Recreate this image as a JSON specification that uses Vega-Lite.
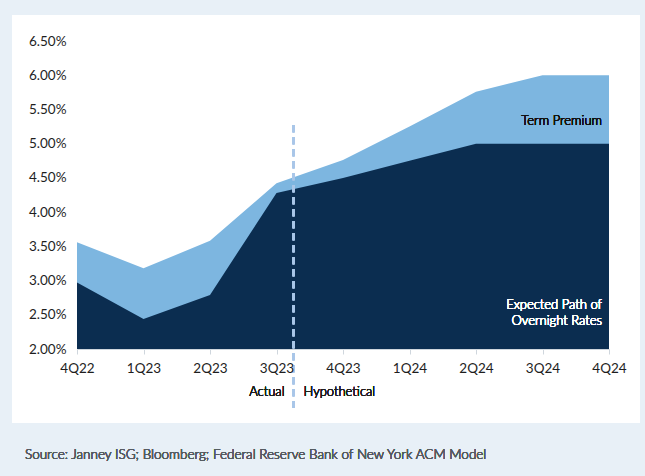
{
  "$schema": "https://vega.github.io/schema/vega-lite/v6.json",
  "autosize": {"type": "none"},
  "width": 532,
  "height": 308,
  "padding": {"left": 77, "top": 41, "right": 36, "bottom": 127},
  "background": "#e8f0f7",
  "config": {
    "font": "Lato",
    "view": {"stroke": null},
    "axis": {"labelOverlap": false, "labelFont": "Lato"}
  },
  "data": {
    "values": [
      {"i": 0, "quarter": "4Q22", "expected": 2.97, "total": 3.56},
      {"i": 1, "quarter": "1Q23", "expected": 2.44, "total": 3.18},
      {"i": 2, "quarter": "2Q23", "expected": 2.79, "total": 3.58},
      {"i": 3, "quarter": "3Q23", "expected": 4.28, "total": 4.42},
      {"i": 4, "quarter": "4Q23", "expected": 4.50, "total": 4.76},
      {"i": 5, "quarter": "1Q24", "expected": 4.75, "total": 5.25},
      {"i": 6, "quarter": "2Q24", "expected": 5.00, "total": 5.76},
      {"i": 7, "quarter": "3Q24", "expected": 5.00, "total": 6.00},
      {"i": 8, "quarter": "4Q24", "expected": 5.00, "total": 6.00}
    ]
  },
  "encoding": {
    "x": {
      "field": "i",
      "type": "quantitative",
      "scale": {"domain": [0, 8], "nice": false, "zero": false},
      "axis": {
        "title": null,
        "zindex": 1,
        "values": [0, 1, 2, 3, 4, 5, 6, 7, 8],
        "labelExpr": "['4Q22','1Q23','2Q23','3Q23','4Q23','1Q24','2Q24','3Q24','4Q24'][datum.value]",
        "grid": false,
        "domainColor": "#cfd6dd",
        "tickColor": "#cfd6dd",
        "tickSize": 5,
        "labelPadding": 7,
        "labelFontSize": 13.5,
        "labelColor": "#1e1e1e",
        "labelFlush": false
      }
    },
    "y": {
      "field": "total",
      "type": "quantitative",
      "scale": {"domain": [2, 6.5], "nice": false, "zero": false},
      "axis": {
        "title": null,
        "zindex": 1,
        "values": [2, 2.5, 3, 3.5, 4, 4.5, 5, 5.5, 6, 6.5],
        "labelExpr": "format(datum.value, '.2f') + '%'",
        "grid": false,
        "domain": false,
        "ticks": false,
        "labelPadding": 11,
        "labelFontSize": 13.5,
        "labelColor": "#1e1e1e"
      }
    }
  },
  "layer": [
    {
      "mark": {"type": "rect", "fill": "#ffffff", "clip": false},
      "encoding": {
        "x": {"datum": -0.977},
        "x2": {"datum": 8.466},
        "y": {"datum": 6.88, "type": "quantitative"},
        "y2": {"datum": 0.919}
      }
    },
    {
      "mark": {"type": "area", "fill": "#7db6e0"},
      "encoding": {
        "y2": {"datum": 2}
      }
    },
    {
      "mark": {"type": "area", "fill": "#0b2d50"},
      "encoding": {
        "y": {"field": "expected", "type": "quantitative"},
        "y2": {"datum": 2}
      }
    },
    {
      "mark": {"type": "rule", "stroke": "#a9c6e8", "strokeWidth": 2, "strokeDash": [7, 5], "clip": false},
      "encoding": {
        "x": {"datum": 3.256},
        "y": {"datum": 5.27},
        "y2": {"datum": 1.14}
      }
    },
    {
      "mark": {"type": "text", "align": "right", "baseline": "middle", "dx": -9, "fontSize": 13, "fontWeight": 300, "fill": "#1e1e1e", "clip": false},
      "encoding": {
        "x": {"datum": 3.256},
        "y": {"datum": 1.372},
        "text": {"value": "Actual"}
      }
    },
    {
      "mark": {"type": "text", "align": "left", "baseline": "middle", "dx": 10, "fontSize": 13, "fontWeight": 300, "fill": "#1e1e1e", "clip": false},
      "encoding": {
        "x": {"datum": 3.256},
        "y": {"datum": 1.372},
        "text": {"value": "Hypothetical"}
      }
    },
    {
      "mark": {"type": "text", "align": "right", "baseline": "middle", "dx": -7, "fontSize": 13, "fontWeight": 300, "fill": "#111111"},
      "encoding": {
        "x": {"datum": 8},
        "y": {"datum": 5.33},
        "text": {"value": "Term Premium"}
      }
    },
    {
      "mark": {"type": "text", "align": "right", "baseline": "middle", "dx": -7, "fontSize": 13, "fontWeight": 300, "lineHeight": 16, "fill": "#ffffff"},
      "encoding": {
        "x": {"datum": 8},
        "y": {"datum": 2.64},
        "text": {"value": ["Expected Path of", "Overnight Rates"]}
      }
    },
    {
      "mark": {"type": "text", "align": "left", "baseline": "middle", "fontSize": 13.5, "fontWeight": 300, "fill": "#555b61", "clip": false},
      "encoding": {
        "x": {"datum": -0.782},
        "y": {"datum": 0.451},
        "text": {"value": "Source: Janney ISG; Bloomberg; Federal Reserve Bank of New York ACM Model"}
      }
    }
  ]
}
